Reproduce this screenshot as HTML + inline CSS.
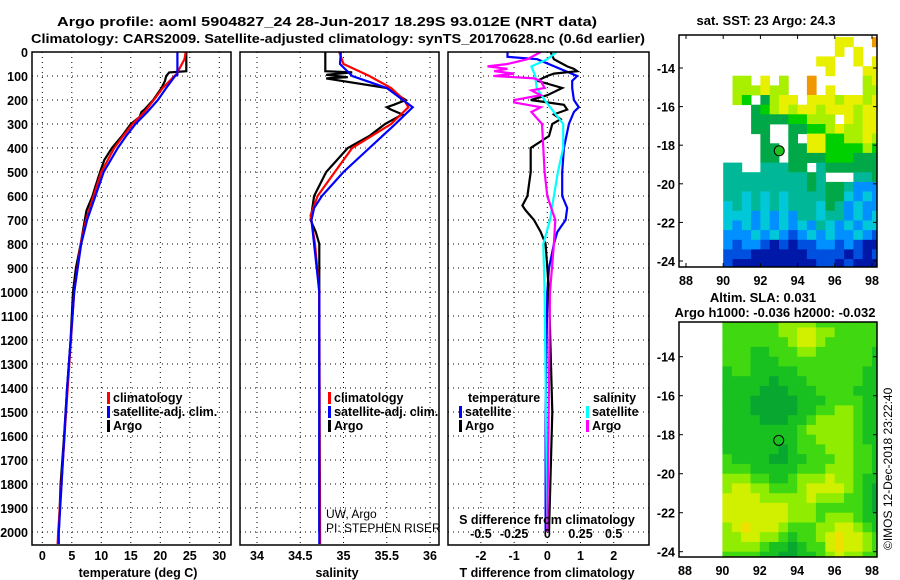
<!DOCTYPE html>
<html><head><meta charset="utf-8"><style>
body{margin:0;background:#fff}
svg{display:block;font-family:"Liberation Sans",sans-serif}
.t{font-weight:bold;font-size:13px;fill:#000}
.tk{font-weight:bold;font-size:12.5px;fill:#000}
</style></head><body>
<svg id="s" width="900" height="580" viewBox="0 0 900 580" xmlns="http://www.w3.org/2000/svg">
<defs>
<clipPath id="c1"><rect x="32" y="52" width="199" height="493"/></clipPath>
<clipPath id="c2"><rect x="240" y="52" width="199" height="493"/></clipPath>
<clipPath id="c3"><rect x="448" y="52" width="201" height="493"/></clipPath>
<clipPath id="c4"><rect x="679" y="35" width="198" height="232"/></clipPath>
<clipPath id="c5"><rect x="679" y="322" width="198" height="235"/></clipPath>
</defs>
<text class="t" x="57" y="26" font-size="15.5" textLength="540" lengthAdjust="spacingAndGlyphs">Argo profile: aoml 5904827_24 28-Jun-2017 18.29S 93.012E (NRT data)</text>
<text class="t" x="31" y="43" font-size="15.5" textLength="614" lengthAdjust="spacingAndGlyphs">Climatology: CARS2009. Satellite-adjusted climatology: synTS_20170628.nc (0.6d earlier)</text>
<text class="t" x="766" y="25" text-anchor="middle">sat. SST: 23 Argo: 24.3</text>
<text class="t" x="763" y="302" text-anchor="middle">Altim. SLA: 0.031</text>
<text class="t" x="775" y="317" text-anchor="middle">Argo h1000: -0.036 h2000: -0.032</text>
<text font-size="12" x="0" y="0" transform="translate(892,550) rotate(-90)">©IMOS 12-Dec-2018 23:22:40</text>
<g id="g"></g>
</svg>
<script>
// ---- data ----
const depthTicks=[0,100,200,300,400,500,600,700,800,900,1000,1100,1200,1300,1400,1500,1600,1700,1800,1900,2000];
const tTicks=[0,5,10,15,20,25,30];
const sTicks=[34,34.5,35,35.5,36];
const tdTicks=[-2,-1,0,1,2];
const sdTicks=[-0.5,-0.25,0,0.25,0.5];
const sdTickLabels=["-0.5","-0.25","0","0.25","0.5"];
const argoTD=[0,80,85,100,120,150,200,240,250,270,300,350,400,450,500,560,600,660,700,800,900,1000,1200,1400,1600,1800,2000];
const argoT=[24.4,24.4,21.5,21,20.8,20.2,18.8,17.3,16.8,16.5,15,13.5,11.8,10.5,9.8,9,8.5,7.5,7.2,6.5,5.7,5.2,4.8,4.2,3.7,3.1,2.8];
const climTD=[0,30,90,150,200,250,300,350,400,500,600,700,800,1000,1400,2000,2050];
const climT=[24.3,24.1,22.8,20.4,18.9,17.3,15.3,13.7,12.2,10.0,8.7,7.4,6.5,5.4,4.3,2.7,2.6];
const satTD=[0,95,100,150,200,250,300,350,400,500,600,700,800,1000,1400,2000,2050];
const satT=[22.9,22.9,22.5,21.0,19.6,17.8,15.8,14.2,12.8,10.4,9.0,7.6,6.6,5.4,4.2,2.8,2.8];
const argoSD=[0,80,85,95,105,110,150,200,220,230,240,260,300,350,400,500,600,700,750,800,1000,2000];
const argoS=[34.79,34.79,35.1,34.8,35.05,34.8,35.5,35.72,35.58,35.5,35.55,35.68,35.48,35.3,35.05,34.8,34.66,34.62,34.68,34.72,34.72,34.72];
const climSD=[0,50,100,150,200,230,300,400,500,600,680,800,1000,2050];
const climS=[34.95,35.0,35.3,35.55,35.7,35.75,35.55,35.1,34.9,34.7,34.62,34.67,34.72,34.73];
const satSD=[0,50,100,150,230,300,400,500,600,650,700,900,1000,2050];
const satS=[34.97,34.96,35.1,35.5,35.8,35.6,35.3,35.0,34.75,34.66,34.63,34.69,34.72,34.72];
const satTdD=[0,20,30,100,120,150,200,230,250,300,400,500,600,650,700,750,800,900,1000,1500,2000];
const satTd=[-1.2,-1.2,-0.3,0.9,0.75,0.75,0.8,0.95,0.8,0.65,0.5,0.45,0.45,0.6,0.55,0.3,0.2,0.05,0,-0.05,-0.05];
const argoTdD=[0,30,60,70,80,90,100,120,150,180,200,220,240,260,280,300,350,400,500,600,640,660,700,750,800,1000,1500,2000];
const argoTd=[0.1,0.2,0.6,0.8,0.9,0.2,0,-0.3,0.45,0,-0.5,0.5,0.6,0.2,0.4,0.15,0.05,-0.5,-0.5,-0.6,-0.75,-0.65,-0.4,-0.2,-0.05,0.05,0.15,0.05];
const argoSdD=[0,30,50,60,70,80,90,100,110,120,150,160,180,200,210,230,250,300,400,500,600,700,800,1000,2000];
const argoSd=[-0.05,-0.15,-0.3,-0.45,-0.3,-0.4,-0.25,-0.4,-0.1,-0.05,-0.02,-0.12,-0.05,-0.25,-0.25,-0.05,-0.12,-0.04,-0.03,-0.02,0,0.06,0.05,0.02,0];
const satSdD=[0,30,60,100,150,200,250,300,400,500,600,700,800,1000,2000];
const satSd=[0.07,0,-0.12,-0.09,-0.08,-0.02,0.05,0.12,0.12,0.08,0.05,0.02,-0.03,-0.02,0];
const lonTicks=[88,90,92,94,96,98];
const latTicks=[-14,-16,-18,-20,-22,-24];
const sstGrid=["............88..9","............8.8..","..........88..8.8","...........8...88",".77.8.7..9.....78",".777877..9.8...77",".76.5788.88878878","...56787887888788","...555566777.8788","...55..5566787788","....5..5.88667787","....55.5588666676","....55.5555666555","44..44455.4555555","44444444454...445","44444444454554222","44343434444553232","34343434443542322","33323232443442323","32323232324323233","22232321232322321","21221010112212100","11100000011110101","10000000001101000"];
const slaGrid=["22222233332222222","22222233443322222","22222223443222222","22211222332222221","22211122222222221","12211111222222211","11111011122222211","11110001112222111","11100000111222211","11100000112233211","11110001123333211","11111111233333211","11111111223333211","11111101222333221","21111001122233221","22211111222333221","33322112333433211","34433222344443210","44443333343332210","44444443332222210","44444443332333211","34544432223344321","33443321223454432","33332110122454432","22221100112343322","22211100112233222"];
const argoLon=93.012, argoLat=-18.29;
// ---- drawing ----
const NS="http://www.w3.org/2000/svg",G=document.getElementById('g');
function el(t,a,p){const e=document.createElementNS(NS,t);for(const k in a)e.setAttribute(k,a[k]);(p||G).appendChild(e);return e;}
const yD=d=>52+d*0.24;
const xT=v=>42.3+v*5.9, xS=v=>257+(v-34)*86.5, xTd=v=>547.3+v*33.2, xSd=v=>547.3+v*132.8;
const mx1=l=>686+(l-88)*18.6, my1=l=>68+(-14-l)*19.3;
const mx2=l=>685+(l-88)*18.7, my2=l=>395.7+(-16-l)*19.5;
function grid(x0,x1,xs){
  depthTicks.forEach(d=>{if(d>0){const h=el('line',{x1:x0,x2:x1,y1:yD(d),y2:yD(d),stroke:'#000','stroke-dasharray':'1,4','stroke-width':1});}});
  xs.forEach(x=>{const v=el('line',{x1:x,x2:x,y1:52,y2:545,stroke:'#000','stroke-dasharray':'1,4','stroke-width':1});});
}
function frame(x,w,name){const r=el('rect',{x:x,y:52,width:w,height:493,fill:'none',stroke:'#000','stroke-width':1.5});}
function series(D,V,fx,col,clip,name){const p=el('polyline',{points:D.map((d,i)=>fx(V[i]).toFixed(1)+','+yD(d).toFixed(1)).join(' '),fill:'none',stroke:col,'stroke-width':2.2,'clip-path':'url(#'+clip+')'});}
function txt(x,y,s,anchor,cls,name){const t=el('text',{x:x,y:y,'text-anchor':anchor||'start',class:cls||'tk'});t.textContent=s;return t;}
function leg(x,y,col,s){const r=el('rect',{x:x,y:y-10,width:3,height:12,fill:col});txt(x+6,y,s,'start','tk','legend-entry');}
// panel 1 temperature
grid(32,231,tTicks.map(xT));
series(argoTD,argoT,xT,'#000','c1','argo-temperature-line');
series(climTD,climT,xT,'#f00','c1','clim-temperature-line');
series(satTD,satT,xT,'#00f','c1','sat-temperature-line');
frame(32,199,'temperature-panel');
depthTicks.forEach(d=>txt(28,yD(d)+5,String(d),'end','tk','depth-tick-label'));
tTicks.forEach(v=>txt(xT(v),560,String(v),'middle','tk','temperature-tick-label'));
txt(138,577,'temperature (deg C)','middle','tk','x-axis-title-temperature');
leg(107,402,'#f00','climatology');leg(107,416,'#00f','satellite-adj. clim.');leg(107,430,'#000','Argo');
// panel 2 salinity
grid(240,439,sTicks.map(xS));
series(argoSD,argoS,xS,'#000','c2','argo-salinity-line');
series(climSD,climS,xS,'#f00','c2','clim-salinity-line');
series(satSD,satS,xS,'#00f','c2','sat-salinity-line');
frame(240,199,'salinity-panel');
sTicks.forEach(v=>txt(xS(v),560,String(v),'middle','tk','salinity-tick-label'));
txt(337,577,'salinity','middle','tk','x-axis-title-salinity');
leg(328,402,'#f00','climatology');leg(328,416,'#00f','satellite-adj. clim.');leg(328,430,'#000','Argo');
txt(326,518,'UW, Argo','start','x','pi-institution').setAttribute('font-size','12');
txt(326,532,'PI: STEPHEN RISER','start','x','pi-name').setAttribute('font-size','12');
// panel 3 differences
grid(448,649,tdTicks.map(xTd));
series(satTdD,satTd,xTd,'#00f','c3','sat-temp-diff-line');
series(argoTdD,argoTd,xTd,'#000','c3','argo-temp-diff-line');
series(satSdD,satSd,xSd,'#0ff','c3','sat-sal-diff-line');
series(argoSdD,argoSd,xSd,'#f0f','c3','argo-sal-diff-line');
frame(448,201,'difference-panel');
tdTicks.forEach(v=>txt(xTd(v),560,String(v),'middle','tk','t-diff-tick-label'));
txt(547,577,'T difference from climatology','middle','tk','x-axis-title-t-diff');
txt(547,524,'S difference from climatology','middle','tk','s-diff-axis-title');
sdTicks.forEach((v,i)=>txt(xSd(v),538,sdTickLabels[i],'middle','tk','s-diff-tick-label'));
txt(468,402,'temperature','start','tk','legend-header-temperature');
txt(593,402,'salinity','start','tk','legend-header-salinity');
leg(459,416,'#00f','satellite');leg(459,430,'#000','Argo');
leg(586,416,'#0ff','satellite');leg(586,430,'#f0f','Argo');
// map 1 SST
const sstCol={'0':'#0018a8','1':'#0050e0','2':'#0090ff','3':'#00c8d8','4':'#00b898','5':'#00a848','6':'#00d000','7':'#a8f000','8':'#e8f000','9':'#f09800','R':'#ff0000'};
sstGrid.forEach((row,i)=>{for(let j=0;j<row.length;j++){const c=row[j];if(c==='.')continue;const lon=90+0.5*j,lat=-12.4-0.5*i;const r=el('rect',{x:mx1(lon).toFixed(1),y:my1(lat).toFixed(1),width:(0.5*18.6+0.4).toFixed(1),height:(0.5*19.3+0.4).toFixed(1),fill:sstCol[c],'clip-path':'url(#c4)'});}});
let m=el('rect',{x:679,y:35,width:198,height:232,fill:'none',stroke:'#000','stroke-width':1.5});
let c=el('circle',{cx:mx1(argoLon),cy:my1(argoLat),r:5,fill:'#20c020',stroke:'#000'});
latTicks.forEach(l=>{txt(675,my1(l)+5,String(l),'end','tk','sst-lat-tick-label');el('line',{x1:679,x2:683,y1:my1(l),y2:my1(l),stroke:'#000'});el('line',{x1:873,x2:877,y1:my1(l),y2:my1(l),stroke:'#000'});});
lonTicks.forEach(l=>{txt(mx1(l),285,String(l),'middle','tk','sst-lon-tick-label');el('line',{x1:mx1(l),x2:mx1(l),y1:35,y2:39,stroke:'#000'});el('line',{x1:mx1(l),x2:mx1(l),y1:263,y2:267,stroke:'#000'});});
// map 2 SLA
const slaCol={'0':'#08a830','1':'#18c020','2':'#40d810','3':'#90ec00','4':'#d0f000','5':'#f0e000'};
slaGrid.forEach((row,i)=>{for(let j=0;j<row.length;j++){const lon=90+0.5*j,lat=-12-0.5*i;const r=el('rect',{x:mx2(lon).toFixed(1),y:my2(lat).toFixed(1),width:(0.5*18.7+0.4).toFixed(1),height:(0.5*19.5+0.4).toFixed(1),fill:slaCol[row[j]],'clip-path':'url(#c5)'});}});
m=el('rect',{x:679,y:322,width:198,height:235,fill:'none',stroke:'#000','stroke-width':1.5});
c=el('circle',{cx:mx2(argoLon),cy:my2(argoLat),r:5,fill:'none',stroke:'#000'});
latTicks.forEach(l=>{txt(675,my2(l)+5,String(l),'end','tk','sla-lat-tick-label');el('line',{x1:679,x2:683,y1:my2(l),y2:my2(l),stroke:'#000'});el('line',{x1:873,x2:877,y1:my2(l),y2:my2(l),stroke:'#000'});});
lonTicks.forEach(l=>{txt(mx2(l),575,String(l),'middle','tk','sla-lon-tick-label');});
</script>
</body></html>
